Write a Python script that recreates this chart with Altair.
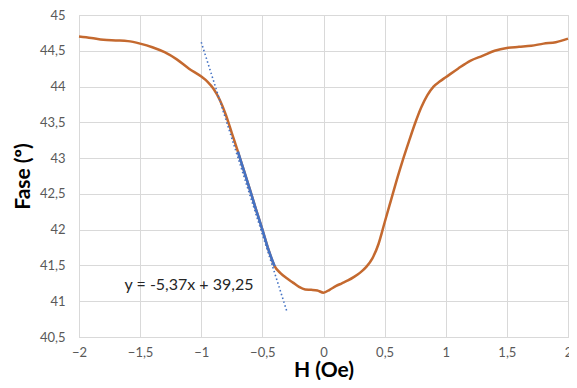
import altair as alt
import pandas as pd

# Main measured curve
h = [-2.0, -1.9, -1.8, -1.7, -1.6, -1.5, -1.4, -1.3, -1.2, -1.1, -1.0, -0.95, -0.9, -0.85,
     -0.8, -0.75, -0.7, -0.65, -0.6, -0.55, -0.5, -0.45, -0.4, -0.35, -0.3, -0.25, -0.2,
     -0.15, -0.1, -0.05, 0.0, 0.05, 0.1, 0.15, 0.2, 0.25, 0.3, 0.35, 0.4, 0.45, 0.5, 0.55,
     0.6, 0.65, 0.7, 0.75, 0.8, 0.85, 0.9, 0.95, 1.0, 1.1, 1.2, 1.3, 1.4, 1.5, 1.6, 1.7,
     1.8, 1.9, 2.0]
fase = [44.70, 44.68, 44.655, 44.645, 44.635, 44.60, 44.55, 44.48, 44.38, 44.25, 44.14, 44.07,
        43.97, 43.82, 43.61, 43.35, 43.09, 42.82, 42.55, 42.27, 42.00, 41.72, 41.49, 41.39,
        41.32, 41.26, 41.20, 41.165, 41.16, 41.15, 41.12, 41.16, 41.21, 41.25, 41.29, 41.34,
        41.40, 41.48, 41.60, 41.80, 42.10, 42.40, 42.70, 42.98, 43.24, 43.49, 43.71, 43.88,
        44.00, 44.07, 44.13, 44.25, 44.36, 44.43, 44.50, 44.54, 44.555, 44.57, 44.60, 44.62,
        44.67]

# Portion used for the linear fit (drawn in blue)
fit_h = [-0.7, -0.65, -0.6, -0.55, -0.5, -0.45, -0.4]
fit_fase = [43.09, 42.82, 42.55, 42.27, 42.00, 41.72, 41.49]

# Trend line endpoints (y = -5,37x + 39,25)
trend_h = [-1.0, -0.3]
trend_fase = [44.62, 40.86]

eq_label = ["y = -5,37x + 39,25"]
eq_h = [-1.1]
eq_fase = [41.22]

x_ticks = [-2.0, -1.5, -1.0, -0.5, 0.0, 0.5, 1.0, 1.5, 2.0]
y_ticks = [40.5, 41.0, 41.5, 42.0, 42.5, 43.0, 43.5, 44.0, 44.5, 45.0]

df = pd.DataFrame({"H": h, "Fase": fase})
df_fit = pd.DataFrame({"H": fit_h, "Fase": fit_fase})
df_trend = pd.DataFrame({"H": trend_h, "Fase": trend_fase})
df_eq = pd.DataFrame({"H": eq_h, "Fase": eq_fase, "label": eq_label})

FONT = "Lato"
label_expr = "replace(format(datum.value, '~g'), '.', ',')"

xscale = alt.Scale(domain=[-2, 2], nice=False, zero=False)
yscale = alt.Scale(domain=[40.5, 45], nice=False, zero=False)

x_axis = alt.Axis(values=x_ticks, labelExpr=label_expr, grid=True,
                  gridColor="#d9d9d9", domainColor="#d9d9d9", ticks=False, labelFont=FONT,
                  labelFontSize=13, labelColor="#595959", labelPadding=9, labelOverlap=False,
                  labelBound=False, labelFlush=False, title="H (Oe)", titleFont=FONT,
                  titleFontSize=21, titleFontWeight="bold", titleColor="#000000",
                  titlePadding=0)
y_axis = alt.Axis(values=y_ticks, labelExpr=label_expr, grid=True,
                  gridColor="#d9d9d9", domainColor="#d9d9d9", ticks=False, labelFont=FONT,
                  labelFontSize=13, labelColor="#595959", labelPadding=14, labelOverlap=False,
                  labelBound=False, labelFlush=False, labelSeparation=0,
                  title="Fase (º)", titleFont=FONT,
                  titleFontSize=21, titleFontWeight="bold", titleColor="#000000",
                  titlePadding=6)

base = alt.Chart(df).mark_line(color="#C4692F", strokeWidth=2.5, interpolate="monotone").encode(
    x=alt.X("H:Q", scale=xscale, axis=x_axis),
    y=alt.Y("Fase:Q", scale=yscale, axis=y_axis),
)

fit = alt.Chart(df_fit).mark_line(color="#4472C4", strokeWidth=2.5, interpolate="monotone").encode(
    x=alt.X("H:Q", scale=xscale, axis=x_axis),
    y=alt.Y("Fase:Q", scale=yscale, axis=y_axis),
)

trend = alt.Chart(df_trend).mark_line(color="#4472C4", strokeWidth=1.6, strokeDash=[1.5, 2.5]).encode(
    x=alt.X("H:Q", scale=xscale, axis=x_axis),
    y=alt.Y("Fase:Q", scale=yscale, axis=y_axis),
)

eq = alt.Chart(df_eq).mark_text(font=FONT, fontSize=16, color="#262626", align="center",
                                baseline="middle").encode(
    x=alt.X("H:Q", scale=xscale, axis=x_axis),
    y=alt.Y("Fase:Q", scale=yscale, axis=y_axis),
    text="label:N",
)

chart = alt.layer(base, fit, trend, eq).properties(
    width=489, height=322,
    autosize=alt.AutoSizeParams(type="none"),
    padding={"left": 71, "top": 7, "right": 1, "bottom": 43},
).configure_view(stroke=None).configure_axis(labelOverlap=False).configure(background="white")

chart.save("out.html", embed_options={"renderer": "svg", "actions": False})
